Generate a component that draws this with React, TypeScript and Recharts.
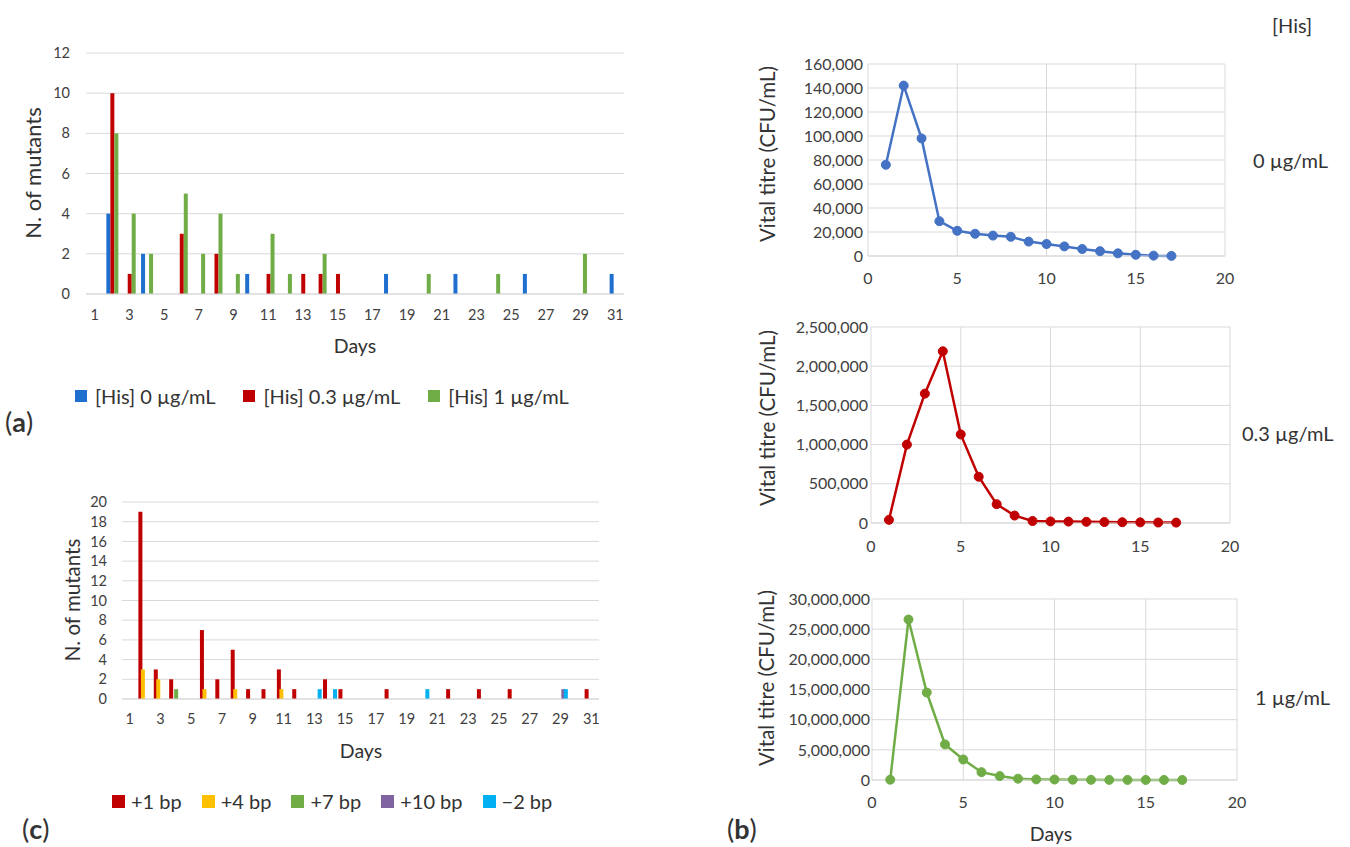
import React from 'react';
import { BarChart, Bar, LineChart, Line, XAxis, YAxis, CartesianGrid } from 'recharts';

const FONT = 'Lato, "Open Sans", sans-serif';
const GRID = '#d9d9d9';
const TICK = '#404040';
const TITLE = '#333333';

// (a) number of mutants per day, by [His]
const days = [1, 2, 3, 4, 5, 6, 7, 8, 9, 10, 11, 12, 13, 14, 15, 16, 17, 18, 19, 20, 21, 22, 23, 24, 25, 26, 27, 28, 29, 30, 31];
const his0 = [0, 4, 0, 2, 0, 0, 0, 0, 0, 1, 0, 0, 0, 0, 0, 0, 0, 1, 0, 0, 0, 1, 0, 0, 0, 1, 0, 0, 0, 0, 1];
const his03 = [0, 10, 1, 0, 0, 3, 0, 2, 0, 0, 1, 0, 1, 1, 1, 0, 0, 0, 0, 0, 0, 0, 0, 0, 0, 0, 0, 0, 0, 0, 0];
const his1 = [0, 8, 4, 2, 0, 5, 2, 4, 1, 0, 3, 1, 0, 2, 0, 0, 0, 0, 0, 1, 0, 0, 0, 1, 0, 0, 0, 0, 2, 0, 0];
const hisSeries = [
  { key: 'his0', name: '[His] 0 µg/mL', color: '#1f6fcf' },
  { key: 'his03', name: '[His] 0.3 µg/mL', color: '#c00000' },
  { key: 'his1', name: '[His] 1 µg/mL', color: '#70ad47' },
];
const mutantTicksA = [0, 2, 4, 6, 8, 10, 12];

// (c) number of mutants per day, by type of frameshift
const bp1 = [0, 19, 3, 2, 0, 7, 2, 5, 1, 1, 3, 1, 0, 2, 1, 0, 0, 1, 0, 0, 0, 1, 0, 1, 0, 1, 0, 0, 0, 0, 1];
const bp4 = [0, 3, 2, 0, 0, 1, 0, 1, 0, 0, 1, 0, 0, 0, 0, 0, 0, 0, 0, 0, 0, 0, 0, 0, 0, 0, 0, 0, 0, 0, 0];
const bp7 = [0, 0, 0, 1, 0, 0, 0, 0, 0, 0, 0, 0, 0, 0, 0, 0, 0, 0, 0, 0, 0, 0, 0, 0, 0, 0, 0, 0, 0, 0, 0];
const bp10 = [0, 0, 0, 0, 0, 0, 0, 0, 0, 0, 0, 0, 0, 0, 0, 0, 0, 0, 0, 0, 0, 0, 0, 0, 0, 0, 0, 0, 1, 0, 0];
const bpMinus2 = [0, 0, 0, 0, 0, 0, 0, 0, 0, 0, 0, 0, 1, 1, 0, 0, 0, 0, 0, 1, 0, 0, 0, 0, 0, 0, 0, 0, 1, 0, 0];
const bpSeries = [
  { key: 'bp1', name: '+1 bp', color: '#c00000' },
  { key: 'bp4', name: '+4 bp', color: '#ffc000' },
  { key: 'bp7', name: '+7 bp', color: '#70ad47' },
  { key: 'bp10', name: '+10 bp', color: '#8064a2' },
  { key: 'bpMinus2', name: '\u22122 bp', color: '#00b0f0' },
];
const mutantTicksC = [0, 2, 4, 6, 8, 10, 12, 14, 16, 18, 20];

// (b) vital titre (CFU/mL) per day
const titreDays = [1, 2, 3, 4, 5, 6, 7, 8, 9, 10, 11, 12, 13, 14, 15, 16, 17];
const titre0 = [76000, 142000, 98000, 29000, 21000, 18500, 17000, 16000, 12000, 10000, 8000, 5800, 4000, 2200, 1000, 300, 100];
const titre03 = [40000, 1000000, 1650000, 2190000, 1130000, 590000, 240000, 95000, 25000, 20000, 18000, 15000, 12000, 10000, 8000, 6000, 5000];
const titre1 = [50000, 26600000, 14500000, 5900000, 3400000, 1300000, 650000, 220000, 100000, 80000, 50000, 30000, 20000, 15000, 10000, 8000, 5000];
const dayTicks = [0, 5, 10, 15, 20];
const titreTicks0 = [0, 20000, 40000, 60000, 80000, 100000, 120000, 140000, 160000];
const titreTicks03 = [0, 500000, 1000000, 1500000, 2000000, 2500000];
const titreTicks1 = [0, 5000000, 10000000, 15000000, 20000000, 25000000, 30000000];

const dataA = days.map((d, i) => ({ day: d, his0: his0[i], his03: his03[i], his1: his1[i] }));
const dataC = days.map((d, i) => ({
  day: d, bp1: bp1[i], bp4: bp4[i], bp7: bp7[i], bp10: bp10[i], bpMinus2: bpMinus2[i],
}));
const toTitre = (vals: number[]) => titreDays.map((d, i) => ({ day: d, v: vals[i] }));

const fmt = (v: number) => v.toLocaleString('en-US');

const vTitle = (text: string, x: number, y: number, size = 20.5) => ({
  content: () => (
    <text x={x} y={y} transform={`rotate(-90 ${x} ${y})`} textAnchor="middle" dominantBaseline="central"
      fontSize={size} fill={TITLE} fontFamily={FONT}>{text}</text>
  ),
});
const hTitle = (text: string, x: number, y: number, size = 19.5) => ({
  content: () => (
    <text x={x} y={y} textAnchor="middle" dominantBaseline="central" fontSize={size} fill={TITLE} fontFamily={FONT}>{text}</text>
  ),
});

type Item = { key: string; name: string; color: string };
const LegendRow = ({ items, left, top, box, gap, iconGap }: { items: Item[]; left: number; top: number; box: number; gap: number; iconGap: number }) => (
  <div style={{
    position: 'absolute', left, top, transform: 'translateY(-50%)', display: 'flex', alignItems: 'center', gap,
    fontFamily: FONT, fontSize: 20, color: TITLE, whiteSpace: 'nowrap', lineHeight: 1,
  }}>
    {items.map((it) => (
      <div key={it.key} style={{ display: 'flex', alignItems: 'center', gap: iconGap }}>
        <span style={{ width: box, height: box, background: it.color, display: 'inline-block' }} />
        <span>{it.name}</span>
      </div>
    ))}
  </div>
);

const Note = ({ left, top, children, size = 20 }: { left: number; top: number; children: React.ReactNode; size?: number }) => (
  <div style={{
    position: 'absolute', left, top, transform: 'translateY(-50%)', fontFamily: FONT, fontSize: size,
    color: TITLE, whiteSpace: 'nowrap', lineHeight: 1.1,
  }}>{children}</div>
);

const PanelTag = ({ left, top, letter }: { left: number; top: number; letter: string }) => (
  <Note left={left} top={top} size={27}>(<b>{letter}</b>)</Note>
);

const tickA = { fontSize: 14.5, fill: TICK, fontFamily: FONT };
const tickB = { fontSize: 16, fill: TICK, fontFamily: FONT };

const TitreChart = ({ data, color, ticks, yWidth, top, right, xHeight, height, yMargin, xMargin, title, days: showDays }: any) => (
  <LineChart width={520} height={height} data={data} margin={{ top, right, bottom: 0, left: 0 }}>
    <CartesianGrid stroke={GRID} />
    <XAxis dataKey="day" type="number" domain={[0, 20]} ticks={dayTicks} height={xHeight} interval={0}
      tickLine={false} tickSize={0} tickMargin={xMargin} axisLine={{ stroke: GRID }} tick={tickB}
      label={showDays} />
    <YAxis type="number" domain={[ticks[0], ticks[ticks.length - 1]]} ticks={ticks} width={yWidth} interval={0}
      tickFormatter={fmt} tickLine={false} tickSize={0} tickMargin={yMargin} axisLine={false} tick={tickB}
      label={title} />
    <Line type="linear" dataKey="v" stroke={color} strokeWidth={2.5} isAnimationActive={false}
      dot={{ r: 4.5, fill: color, stroke: color, strokeWidth: 1 }} />
  </LineChart>
);

export default function App() {
  return (
    <div style={{ position: 'absolute', left: 0, top: 0, width: 1350, height: 847, background: '#fff', overflow: 'hidden' }}>
      {/* (a) */}
      <div style={{ position: 'absolute', left: 0, top: 0 }}>
        <BarChart width={640} height={370} data={dataA} margin={{ top: 53, right: 16, bottom: 0, left: 0 }}
          barGap={0} barCategoryGap={0}>
          <CartesianGrid stroke={GRID} vertical={false} />
          <XAxis dataKey="day" interval={1} height={76} tickLine={false} tickSize={0} tickMargin={16}
            axisLine={{ stroke: GRID }} tick={tickA} label={hTitle('Days', 355, 345)} />
          <YAxis domain={[0, 12]} ticks={mutantTicksA} width={86} interval={0} tickLine={false} tickSize={0}
            tickMargin={16} axisLine={false} tick={tickA} label={vTitle('N. of mutants', 32, 173, 22)} />
          {hisSeries.map((s) => (
            <Bar key={s.key} dataKey={s.key} name={s.name} fill={s.color} barSize={4} isAnimationActive={false} />
          ))}
        </BarChart>
      </div>
      <LegendRow items={hisSeries} left={75} top={396} box={12} gap={28} iconGap={8} />
      <PanelTag left={5} top={422} letter="a" />

      {/* (c) */}
      <div style={{ position: 'absolute', left: 0, top: 470 }}>
        <BarChart width={640} height={300} data={dataC} margin={{ top: 32, right: 41, bottom: 0, left: 0 }}
          barGap={-1.5} barCategoryGap={0}>
          <CartesianGrid stroke={GRID} vertical={false} />
          <XAxis dataKey="day" interval={1} height={71} tickLine={false} tickSize={0} tickMargin={15}
            axisLine={{ stroke: GRID }} tick={tickA} label={hTitle('Days', 361, 280)} />
          <YAxis domain={[0, 20]} ticks={mutantTicksC} width={122} interval={0} tickLine={false} tickSize={0}
            tickMargin={15} axisLine={false} tick={tickA} label={vTitle('N. of mutants', 72, 130)} />
          {bpSeries.map((s) => (
            <Bar key={s.key} dataKey={s.key} name={s.name} fill={s.color} barSize={4} isAnimationActive={false} />
          ))}
        </BarChart>
      </div>
      <LegendRow items={bpSeries} left={112} top={801} box={13} gap={20} iconGap={6} />
      <PanelTag left={22} top={829} letter="c" />

      {/* (b) */}
      <div style={{ position: 'absolute', left: 740, top: 30 }}>
        <TitreChart data={toTitre(titre0)} color="#4472c4" ticks={titreTicks0} yWidth={128} top={34} right={35}
          xHeight={44} height={270} yMargin={5} xMargin={17} title={vTitle('Vital titre (CFU/mL)', 27, 124)} />
      </div>
      <div style={{ position: 'absolute', left: 740, top: 300 }}>
        <TitreChart data={toTitre(titre03)} color="#c00000" ticks={titreTicks03} yWidth={131} top={27} right={30}
          xHeight={42} height={265} yMargin={3} xMargin={18} title={vTitle('Vital titre (CFU/mL)', 27, 118)} />
      </div>
      <div style={{ position: 'absolute', left: 740, top: 570 }}>
        <TitreChart data={toTitre(titre1)} color="#70ad47" ticks={titreTicks1} yWidth={132} top={29} right={23}
          xHeight={67} height={277} yMargin={2} xMargin={17} title={vTitle('Vital titre (CFU/mL)', 26, 108)}
          days={hTitle('Days', 311, 263)} />
      </div>
      <Note left={1272} top={25}>[His]</Note>
      <Note left={1253} top={160}>0 µg/mL</Note>
      <Note left={1242} top={433}>0.3 µg/mL</Note>
      <Note left={1255} top={697}>1 µg/mL</Note>
      <PanelTag left={727} top={829} letter="b" />
    </div>
  );
}
